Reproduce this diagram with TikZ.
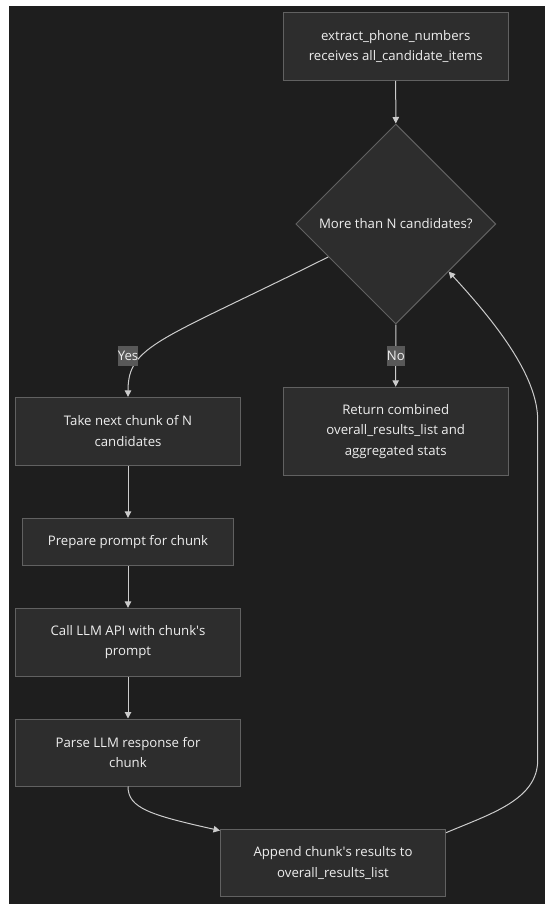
\documentclass[tikz,border=0pt]{standalone}
\usepackage{fontspec}
\setmainfont{Open Sans}
\usetikzlibrary{shapes.geometric,arrows.meta}
\definecolor{bgc}{HTML}{1E1E1E}
\definecolor{boxc}{HTML}{2D2D2D}
\definecolor{edgec}{HTML}{616161}
\definecolor{linec}{HTML}{CCCCCC}
\definecolor{txtc}{HTML}{EEEEEE}
\definecolor{lblc}{HTML}{585858}
\begin{document}
\begin{tikzpicture}[x=1pt,y=-1pt,
  every node/.style={font=\fontsize{13.2}{20.7}\selectfont, text=txtc},
  procbox/.style={draw=edgec, fill=boxc, line width=1pt, align=center, minimum width=225pt, inner sep=0pt},
  decbox/.style={diamond, draw=edgec, fill=boxc, line width=1pt, minimum width=200pt, minimum height=200pt, inner sep=0pt, align=center},
  conn/.style={draw=linec, line width=1pt, -{Triangle[length=6.5pt,width=6.5pt]}},
  elabel/.style={fill=lblc, inner xsep=0pt, inner ysep=0pt, minimum height=20pt, text=txtc}]
\fill[white] (0,0) rectangle (552,907);
\fill[bgc] (9,6) rectangle (545,904);
\useasboundingbox (0,0) rectangle (552,907);

\node[procbox, minimum height=67.6pt] (top) at (395.7,46.5) {extract\_phone\_numbers\\receives all\_candidate\_items};
\node[decbox] (dec) at (395.8,224) {More than N candidates?};
\node[procbox, minimum height=67.7pt] (take) at (128,431.2) {Take next chunk of N\\candidates};
\node[procbox, minimum height=88pt] (ret) at (395.7,431.3) {Return combined\\overall\_results\_list and\\aggregated stats};
\node[procbox, minimum width=210.2pt, minimum height=47.4pt] (prep) at (128,542) {Prepare prompt for chunk};
\node[procbox, minimum height=67.7pt] (call) at (128,642.2) {Call LLM API with chunk\textquotesingle s\\prompt};
\node[procbox, minimum height=67pt] (parse) at (128,752.5) {Parse LLM response for\\chunk};
\node[procbox, minimum height=67.4pt] (app) at (333,863) {Append chunk\textquotesingle s results to\\overall\_results\_list};

\coordinate (lpb) at (537.7,760);
\coordinate (lpt) at (537.7,420);

\draw[conn] (top.south) -- (dec.north);
\draw[conn] (dec.206.3) .. controls (160,341) and (128,345) .. (take.north);
\node[elabel] (yes) at (128,355.5) {Yes};
\draw[conn] (dec.south) -- (ret.north);
\node[elabel] (no) at (395.8,355.5) {No};
\draw[conn] (take.south) -- (prep.north);
\draw[conn] (prep.south) -- (call.north);
\draw[conn] (call.south) -- (parse.north);
\draw[conn] (parse.south) .. controls (128,808) and (150,815) .. (app.164.6);
\draw[conn] (app.15.1) .. controls (490,814) and (537.7,800) .. (lpb) -- (lpt) .. controls (537.7,375) and (493.3,320) .. (dec.-42.6);
\end{tikzpicture}
\end{document}
